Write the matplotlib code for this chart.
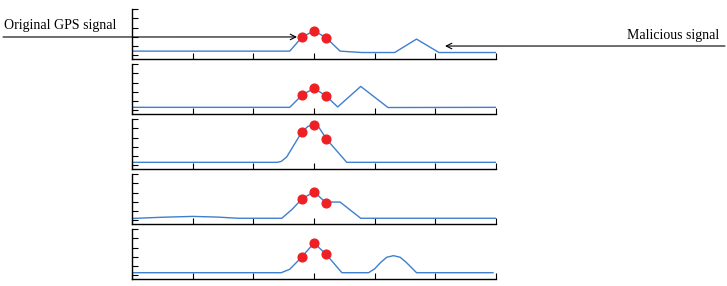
import matplotlib.pyplot as plt

# 各パネルの信号（x: 0-6, y: 相対振幅）
x1 = [0, 2.6, 2.8, 3.0, 3.2, 3.43, 3.79, 4.33, 4.69, 5.06, 6]
y1 = [0.45, 0.45, 1.95, 2.65, 1.9, 0.45, 0.3, 0.3, 1.75, 0.3, 0.3]

x2 = [0, 2.6, 2.8, 3.0, 3.2, 3.39, 3.77, 4.22, 6]
y2 = [0.32, 0.32, 1.62, 2.38, 1.55, 0.36, 2.58, 0.3, 0.32]

x3 = [0, 2.39, 2.46, 2.55, 2.8, 2.9, 3.0, 3.08, 3.21, 3.54, 6]
y3 = [0.32, 0.32, 0.42, 0.9, 3.6, 4.2, 4.35, 4.1, 2.8, 0.32, 0.32]

x4 = [0, 0.5, 1.0, 1.4, 1.75, 2.47, 2.64, 2.8, 3.0, 3.2, 3.27, 3.43, 3.77, 6]
y4 = [0.2, 0.33, 0.42, 0.35, 0.22, 0.22, 1.19, 2.3, 3.08, 1.88, 1.97, 1.97, 0.22, 0.22]

x5 = [0, 2.46, 2.6, 2.8, 3.0, 3.2, 3.46, 3.9, 4.0, 4.1, 4.2, 4.31, 4.42, 4.52, 4.69, 5.95]
y5 = [0.28, 0.28, 0.65, 1.98, 3.49, 2.27, 0.28, 0.28, 0.7, 1.4, 1.95, 2.12, 1.95, 1.4, 0.28, 0.28]

# 赤い点（サンプル点）
dot_x = [2.8, 3.0, 3.2]
dots = [
    [1.95, 2.65, 1.9],
    [1.62, 2.38, 1.55],
    [3.6, 4.35, 2.8],
    [2.3, 3.08, 1.88],
    [1.98, 3.49, 2.27],
]

xs = [x1, x2, x3, x4, x5]
ys = [y1, y2, y3, y4, y5]

W, H = 727, 286
fig = plt.figure(figsize=(W / 100, H / 100), dpi=100)

axes = []
for i in range(5):
    top = 9 + i * 55
    ax = fig.add_axes([132 / W, 1 - (top + 50) / H, (496 - 132) / W, 50 / H])
    ax.plot(xs[i], ys[i], color='#3f7fcf', lw=1.0)
    ax.plot(dot_x, dots[i], 'o', color='#ee2024', ms=6.3, zorder=3)
    ax.set_xlim(0, 6)
    ax.set_ylim(-0.4, 5)
    ax.set_xticks(range(7))
    ax.set_yticks(range(6))
    ax.tick_params(direction='in', length=4, width=0.8, labelleft=False, labelbottom=False)
    ax.spines['top'].set_visible(False)
    ax.spines['right'].set_visible(False)
    for s in ['left', 'bottom']:
        ax.spines[s].set_linewidth(1.0)
    axes.append(ax)

ax1 = axes[0]
font = {'family': 'Liberation Serif', 'size': 10}

# 矢印と注記
ax1.annotate('', xy=(2.72, 1.98), xycoords='data',
             xytext=(3 / W, 1 - 37 / H), textcoords='figure fraction',
             arrowprops=dict(arrowstyle='->', lw=0.8, color='black', shrinkA=0, shrinkB=0),
             annotation_clip=False)
fig.text(4 / W, 1 - 26 / H, 'Original GPS signal', ha='left', va='center', **font)

ax1.annotate('', xy=(5.16, 1.0), xycoords='data',
             xytext=(725 / W, 1 - 46 / H), textcoords='figure fraction',
             arrowprops=dict(arrowstyle='->', lw=0.8, color='black', shrinkA=0, shrinkB=0),
             annotation_clip=False)
fig.text(719 / W, 1 - 36 / H, 'Malicious signal', ha='right', va='center', **font)

fig.savefig('out.png', dpi=100)
